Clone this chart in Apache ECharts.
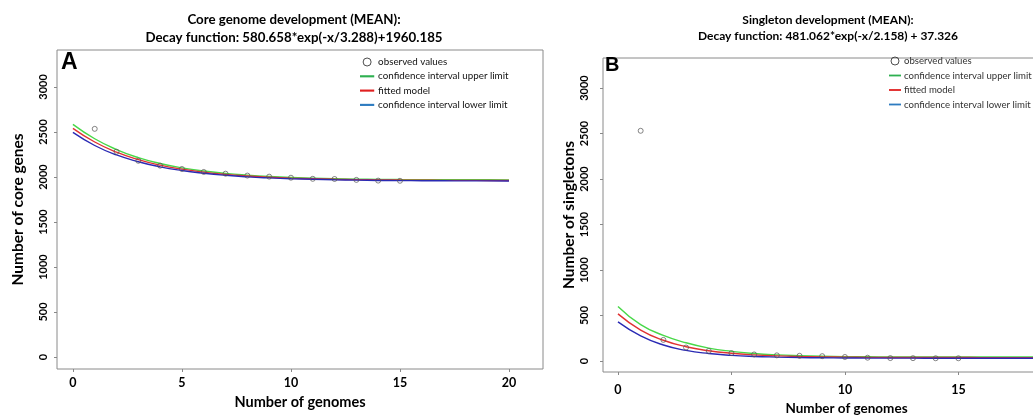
<!DOCTYPE html>
<html>
<head>
<meta charset="utf-8">
<script src="https://cdn.jsdelivr.net/npm/echarts@6/dist/echarts.min.js"></script>
<style>
html,body{margin:0;padding:0;background:#fff;}
#chart{width:1033px;height:417px;}
</style>
</head>
<body>
<div id="chart"></div>
<script>
// ---------- DATA ----------
const genomesCurve = [0,1,2,3,4,5,6,7,8,9,10,11,12,13,14,15,16,17,18,19,20];
const genomesObs = [1,2,3,4,5,6,7,8,9,10,11,12,13,14,15];
const xTicks = [0,5,10,15,20];
const yTicks = [0,500,1000,1500,2000,2500,3000];

// Panel A: core genome
const coreObserved = [2535,2281,2180,2126,2089,2056,2037,2016,2004,1992,1980,1978,1968,1960,1958];
const coreUpper  = [2585,2425,2305,2215,2150,2102,2066,2040,2021,2006,1995,1988,1982,1977,1974,1972,1971,1970,1969,1969,1968];
const coreFitted = [2541,2389,2276,2193,2132,2087,2054,2029,2011,1998,1988,1981,1975,1971,1968,1966,1965,1963,1963,1962,1961];
const coreLower  = [2495,2350,2245,2170,2113,2072,2042,2019,2002,1990,1981,1975,1969,1965,1962,1960,1959,1958,1957,1957,1956];

// Panel B: singletons
const singObserved = [2530,232,148,110,87,72,62,57,53,44,36,32,31,30,30];
const singUpper  = [600,400,282,200,142,106,82,67,58,52,48,46,45,44,44,44,44,44,44,44,44];
const singFitted = [518,340,228,157,113,85,67,56,49,45,42,40,39,38.5,38,37.7,37.5,37.4,37.4,37.3,37.3];
const singLower  = [430,276,176,116,82,62,50,43,38,35,33,32,31,31,30,30,30,30,30,30,30];

const titleA1 = 'Core genome development (MEAN):';
const titleA2 = 'Decay function: 580.658*exp(-x/3.288)+1960.185';
const titleB1 = 'Singleton development (MEAN):';
const titleB2 = 'Decay function: 481.062*exp(-x/2.158) + 37.326';
const legendNames = ['observed values','confidence interval upper limit','fitted model','confidence interval lower limit'];

// ---------- CHART ----------
const FONT = 'Lato';
const pair = (xs, ys) => xs.map((x, i) => [x, ys[i]]);
const cGreen = '#48d848', cRed = '#e03232', cBlue = '#2a2ab4';
const lgGreen = '#2eb050', lgRed = '#e02020', lgBlue = '#2e7cc0';
const LINE_ICON = 'path://M0,0 M0,3.3 L16,3.3 L16,5.7 L0,5.7 Z M16,9';

function xAx(gi, min, max, margin, gap, nameSize) {
  return {
    type: 'value', gridIndex: gi, min: min, max: max,
    axisLine: {show: false, onZero: false},
    axisTick: {show: true, length: 3, customValues: xTicks, lineStyle: {color: '#888'}},
    axisLabel: {customValues: xTicks, margin: margin, formatter: v => String(v),
      fontFamily: FONT, fontWeight: 'bold', fontSize: 12.5, color: '#000'},
    splitLine: {show: false},
    name: 'Number of genomes', nameLocation: 'middle', nameGap: gap,
    nameTextStyle: {fontFamily: FONT, fontWeight: 'bold', fontSize: nameSize, color: '#000'}
  };
}
function yAx(gi, min, max, margin, name, gap, nameSize) {
  return {
    type: 'value', gridIndex: gi, min: min, max: max,
    axisLine: {show: false, onZero: false},
    axisTick: {show: true, length: 3, customValues: yTicks, lineStyle: {color: '#888'}},
    axisLabel: {customValues: yTicks, rotate: 90, margin: margin, formatter: v => String(v),
      fontFamily: FONT, fontWeight: 'bold', fontSize: 11, color: '#000'},
    splitLine: {show: false},
    name: name, nameLocation: 'middle', nameGap: gap,
    nameTextStyle: {fontFamily: FONT, fontWeight: 'bold', fontSize: nameSize, color: '#000'}
  };
}
function lineS(name, xi, xs, ys, color) {
  return {type: 'line', name: name, xAxisIndex: xi, yAxisIndex: xi, data: pair(xs, ys),
    smooth: true, symbol: 'none', showSymbol: false, lineStyle: {color: color, width: 1.4}, itemStyle: {color: color}, z: 2};
}
function obsS(xi, ys) {
  return {type: 'scatter', name: legendNames[0], xAxisIndex: xi, yAxisIndex: xi, data: pair(genomesObs, ys),
    symbol: 'circle', symbolSize: 5,
    itemStyle: {color: 'rgba(255,255,255,0)', borderColor: '#555', borderWidth: 0.9}, z: 3};
}
function legendData(c1, c2, c3) {
  return [
    {name: legendNames[0], icon: 'circle', itemStyle: {color: 'rgba(255,255,255,0)', borderColor: '#222', borderWidth: 1}},
    {name: legendNames[1], icon: LINE_ICON, itemStyle: {color: c1, borderWidth: 0}},
    {name: legendNames[2], icon: LINE_ICON, itemStyle: {color: c2, borderWidth: 0}},
    {name: legendNames[3], icon: LINE_ICON, itemStyle: {color: c3, borderWidth: 0}}
  ];
}

const option = {
  backgroundColor: '#fff',
  animation: false,
  title: [
    {text: titleA1 + '\n' + titleA2, left: 294, top: 11, textAlign: 'center', padding: 0,
     textStyle: {fontFamily: FONT, fontWeight: 'bold', fontSize: 13.3, color: '#000', lineHeight: 18}},
    {text: titleB1 + '\n' + titleB2, left: 828, top: 12.5, textAlign: 'center', padding: 0,
     textStyle: {fontFamily: FONT, fontWeight: 'bold', fontSize: 12, color: '#000', lineHeight: 15.5}},
    {text: 'A', left: 61, top: 51, padding: 0, textStyle: {fontFamily: 'Liberation Sans', fontWeight: 'bold', fontSize: 23, color: '#000'}},
    {text: 'B', left: 605, top: 55, padding: 0, textStyle: {fontFamily: 'Liberation Sans', fontWeight: 'bold', fontSize: 20, color: '#000'}}
  ],
  legend: [
    {orient: 'vertical', left: 360, top: 57, padding: 0, itemWidth: 16, itemHeight: 8, itemGap: 4.3,
     data: legendData(lgGreen, lgRed, lgBlue),
     textStyle: {fontFamily: FONT, fontSize: 9.8, color: '#111', padding: [0,0,0,-2]}},
    {orient: 'vertical', left: 889, top: 56, padding: 0, itemWidth: 12, itemHeight: 8, itemGap: 4.5,
     data: legendData(lgGreen, lgRed, lgBlue),
     textStyle: {fontFamily: FONT, fontSize: 9.6, color: '#333', padding: [0,0,0,-2]}}
  ],
  grid: [
    {left: 57, top: 50, width: 486, height: 319, show: true, borderColor: '#8a8a8a', borderWidth: 1,
     containLabel: false, outerBoundsMode: 'none'},
    {left: 603, top: 58, width: 487, height: 314, show: true, borderColor: '#8a8a8a', borderWidth: 1,
     containLabel: false, outerBoundsMode: 'none'}
  ],
  xAxis: [xAx(0, -0.73, 21.56, 7.5, 25, 14.5), xAx(1, -0.66, 20.8, 11.5, 29, 13.5)],
  yAxis: [yAx(0, -133, 3411, 8, 'Number of core genes', 31, 15.5), yAx(1, -121, 3330, 13, 'Number of singletons', 26, 15.5)],
  series: [
    lineS(legendNames[1], 0, genomesCurve, coreUpper, cGreen),
    lineS(legendNames[2], 0, genomesCurve, coreFitted, cRed),
    lineS(legendNames[3], 0, genomesCurve, coreLower, cBlue),
    obsS(0, coreObserved),
    lineS(legendNames[1], 1, genomesCurve, singUpper, cGreen),
    lineS(legendNames[2], 1, genomesCurve, singFitted, cRed),
    lineS(legendNames[3], 1, genomesCurve, singLower, cBlue),
    obsS(1, singObserved)
  ]
};
const chart = echarts.init(document.getElementById('chart'), null, {renderer: 'canvas'});
chart.setOption(option);
</script>
</body>
</html>
